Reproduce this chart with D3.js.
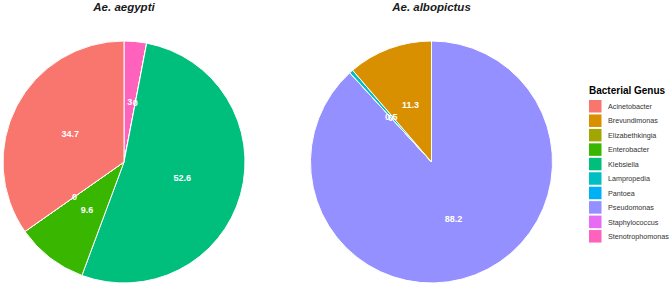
<!DOCTYPE html>
<html>
<head>
<meta charset="utf-8">
<script src="https://cdn.jsdelivr.net/npm/d3@7"></script>
<style>
    body { margin: 0; background: #fff; }
    svg { display: block; font-family: Arial, "Liberation Sans", sans-serif; }
    .facet-title { font-size: 11.5px; font-weight: bold; font-style: italic; fill: #1a1a1a; }
    .slice-label { font-size: 9px; font-weight: bold; fill: #fff; }
    .legend-title { font-size: 10px; font-weight: bold; fill: #000; }
    .legend-label { font-size: 7.2px; fill: #333; }
</style>
</head>
<body>
<div id="chart"></div>
<script>

var genera = ['Acinetobacter', 'Brevundimonas', 'Elizabethkingia', 'Enterobacter', 'Klebsiella',
              'Lampropedia', 'Pantoea', 'Pseudomonas', 'Staphylococcus', 'Stenotrophomonas'];

var colors = ['#F8766D', '#D89000', '#A3A500', '#39B600', '#00BF7D',
              '#00BFC4', '#00B0F6', '#9590FF', '#E76BF3', '#FF62BC'];

// genera present in each species, with the % values printed on the slices
var aegyptiGenera = ['Acinetobacter', 'Elizabethkingia', 'Enterobacter', 'Klebsiella', 'Staphylococcus', 'Stenotrophomonas'];
var aegyptiValues = [34.7, 0, 9.6, 52.6, 0, 3];

var albopictusGenera = ['Brevundimonas', 'Lampropedia', 'Pantoea', 'Pseudomonas'];
var albopictusValues = [11.3, 0.5, 0, 88.2];

var species = ['Ae. aegypti', 'Ae. albopictus'];

var width = 671,
    height = 289;

var colorScale = d3.scaleOrdinal()
    .domain(genera)
    .range(colors);

var svg = d3.select('#chart')
    .append('svg')
    .attr('width', width)
    .attr('height', height);

var radius = 121;

drawPie(svg, species[0], aegyptiGenera, aegyptiValues, 124, 162);
drawPie(svg, species[1], albopictusGenera, albopictusValues, 431.5, 162);
makeLegend(svg, 589, 80);


function drawPie(svg, title, names, values, cx, cy) {
    var rows = names.map(function(n, i) { return { genus: n, value: values[i] }; });

    // ggplot stacks the first level on top, so clockwise order is reversed
    rows.sort(function(a, b) { return d3.descending(genera.indexOf(a.genus), genera.indexOf(b.genus)); });

    var pie = d3.pie()
        .sort(null)
        .value(function(d) { return d.value; });

    var arc = d3.arc()
        .innerRadius(0)
        .outerRadius(radius);

    var g = svg.append('g')
        .attr('transform', 'translate(' + cx + ',' + cy + ')');

    var arcs = pie(rows);

    g.selectAll('.slice')
        .data(arcs)
      .enter().append('path')
        .attr('class', 'slice')
        .attr('d', arc)
        .attr('fill', function(d) { return colorScale(d.data.genus); })
        .attr('stroke', '#fff')
        .attr('stroke-width', 1);

    g.selectAll('.slice-label')
        .data(arcs)
      .enter().append('text')
        .attr('class', 'slice-label')
        .attr('x', function(d) { return arc.centroid(d)[0]; })
        .attr('y', function(d) { return arc.centroid(d)[1]; })
        .attr('dy', '0.35em')
        .style('text-anchor', 'middle')
        .text(function(d) { return d.data.value; });

    svg.append('text')
        .attr('class', 'facet-title')
        .attr('x', cx)
        .attr('y', 11)
        .style('text-anchor', 'middle')
        .text(title);
}


function makeLegend(svg, x0, y0) {
    var legend = svg.append('g')
        .attr('transform', 'translate(' + x0 + ',' + y0 + ')');

    legend.append('text')
        .attr('class', 'legend-title')
        .attr('x', 0)
        .attr('y', 14)
        .text('Bacterial Genus');

    var step = 14.45;

    var items = legend.selectAll('.legend-item')
        .data(genera)
      .enter().append('g')
        .attr('class', 'legend-item')
        .attr('transform', function(d, i) { return 'translate(0,' + (20 + i * step) + ')'; });

    items.append('rect')
        .attr('width', 12.5)
        .attr('height', 12.5)
        .attr('fill', function(d) { return colorScale(d); });

    items.append('text')
        .attr('class', 'legend-label')
        .attr('x', 19)
        .attr('y', 6.5)
        .attr('dy', '0.35em')
        .text(function(d) { return d; });
}

</script>
</body>
</html>
